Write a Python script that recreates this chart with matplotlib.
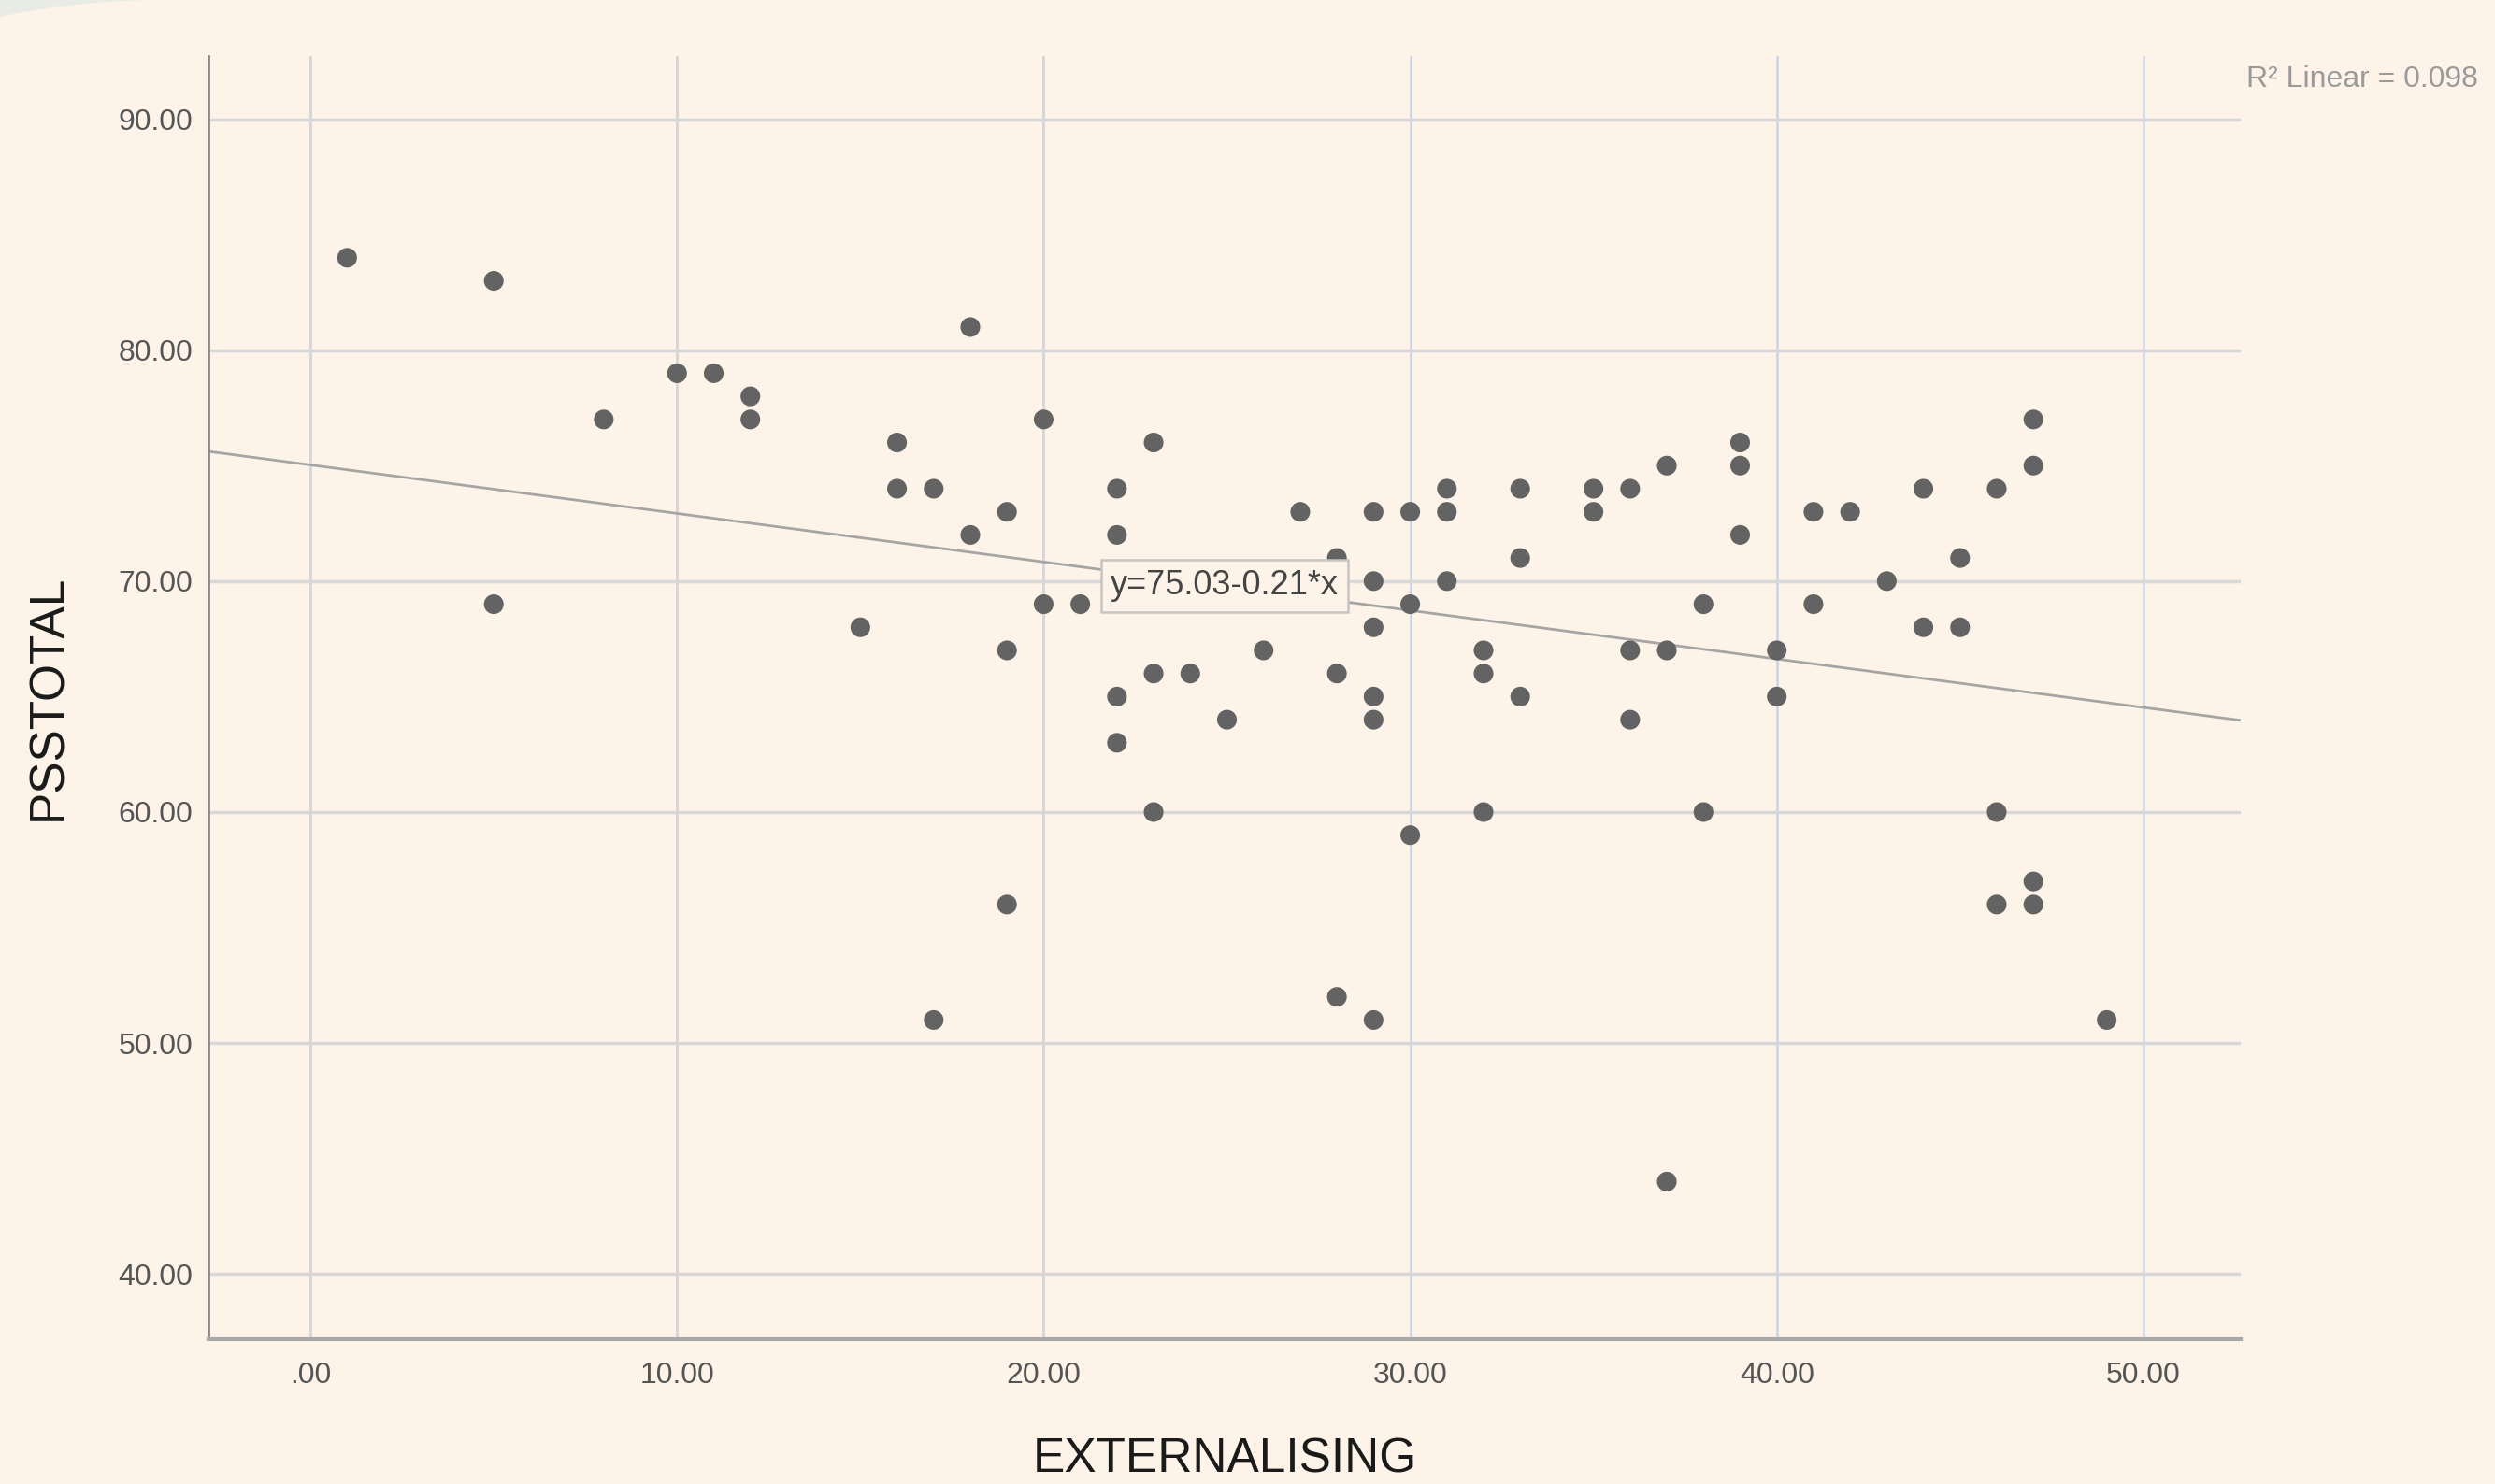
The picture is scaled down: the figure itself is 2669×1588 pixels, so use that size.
import matplotlib
matplotlib.use("Agg")
import matplotlib.pyplot as plt
from matplotlib.patches import Circle, Rectangle
from matplotlib.transforms import IdentityTransform
from matplotlib.ticker import FuncFormatter

plt.rcParams['font.family'] = ['Liberation Sans', 'DejaVu Sans']

# Data (EXTERNALISING vs PSSTOTAL)
externalising = [1, 5, 5, 8, 10, 11, 12, 12, 15, 16, 16, 17, 17, 18, 18, 19, 19, 19,
                 20, 20, 21, 22, 22, 22, 22, 23, 23, 23, 24, 25, 26, 27, 28, 28, 28,
                 29, 29, 29, 29, 29, 29, 30, 30, 30, 31, 31, 31, 32, 32, 32, 33, 33, 33,
                 35, 35, 36, 36, 36, 37, 37, 37, 38, 38, 39, 39, 39, 40, 40, 41, 41,
                 42, 43, 44, 44, 45, 45, 46, 46, 46, 47, 47, 47, 47, 49]
psstotal = [84, 83, 69, 77, 79, 79, 78, 77, 68, 76, 74, 74, 51, 81, 72, 73, 67, 56,
            77, 69, 69, 74, 72, 65, 63, 76, 66, 60, 66, 64, 67, 73, 71, 66, 52,
            73, 70, 68, 65, 64, 51, 73, 69, 59, 74, 73, 70, 67, 66, 60, 74, 71, 65,
            74, 73, 74, 67, 64, 75, 67, 44, 69, 60, 76, 75, 72, 67, 65, 73, 69,
            73, 70, 74, 68, 71, 68, 74, 60, 56, 77, 75, 57, 56, 51]

# fit reported on the chart
intercept = 75.03
slope = -0.21
r_squared = 0.098

x_ticks = [0, 10, 20, 30, 40, 50]
y_ticks = [40, 50, 60, 70, 80, 90]

cream = '#FDF3E8'
fig = plt.figure(figsize=(26.69, 15.88), dpi=100, facecolor=cream)

# grey rounded corner at top-left (pixel coordinates)
fig.add_artist(Rectangle((0, 1588 - 40), 172, 40, transform=IdentityTransform(),
                         fc='#E8ECE5', ec='none', zorder=-6))
fig.add_artist(Circle((172, 1588 - 831), 831, transform=IdentityTransform(),
                      fc=cream, ec='none', zorder=-5))

ax = fig.add_axes([0.0836, 0.0976, 0.8144, 0.8649])
ax.set_facecolor(cream)
ax.set_xlim(-2.78, 52.65)
ax.set_ylim(37.18, 92.75)

ax.set_axisbelow(True)
ax.xaxis.grid(True, color='#D2D6DC', lw=2)
ax.yaxis.grid(True, color='#D8D8D8', lw=2.5)

ax.scatter(externalising, psstotal, s=230, c='#636363', edgecolors='none', zorder=3)

# regression line across the full x range
xs = ax.get_xlim()
ax.plot(xs, [intercept + slope * x for x in xs], color='#A5A5A5', lw=2, zorder=2)

xm = sum(xs) / 2
ax.text(xm, intercept + slope * xm, f"y={intercept:.2f}-{abs(slope):.2f}*x",
        fontsize=26, color='#444444', ha='center', va='center', zorder=4,
        bbox=dict(boxstyle='square,pad=0.28', fc=cream, ec='#C4C4C4', lw=1.8))

ax.set_xticks(x_ticks)
ax.set_yticks(y_ticks)
fmt = FuncFormatter(lambda v, p: '.00' if v == 0 else f'{v:.2f}')
ax.xaxis.set_major_formatter(fmt)
ax.yaxis.set_major_formatter(fmt)
ax.tick_params(axis='both', length=0, labelsize=23, labelcolor='#555555')
ax.tick_params(axis='x', pad=17)
ax.tick_params(axis='y', pad=12)

for side in ['top', 'right']:
    ax.spines[side].set_visible(False)
ax.spines['left'].set_color('#8A8A8A')
ax.spines['left'].set_linewidth(2)
ax.spines['bottom'].set_color('#A8A8A8')
ax.spines['bottom'].set_linewidth(3)

ax.set_xlabel('EXTERNALISING', fontsize=37, color='#1A1A1A')
ax.xaxis.set_label_coords(0.5, -0.094)
ax.xaxis.label.set_va('center')
ax.set_ylabel('PSSTOTAL', fontsize=37, color='#1A1A1A')
ax.yaxis.set_label_coords(-0.079, 0.5)
ax.yaxis.label.set_va('center')
ax.yaxis.label.set_ha('center')

fig.text(2403 / 2669, 1 - 85 / 1588, f"R² Linear = {r_squared:.3f}",
         fontsize=23, color='#9A9A9A', ha='left', va='center')

fig.savefig('out.png', dpi=100)
